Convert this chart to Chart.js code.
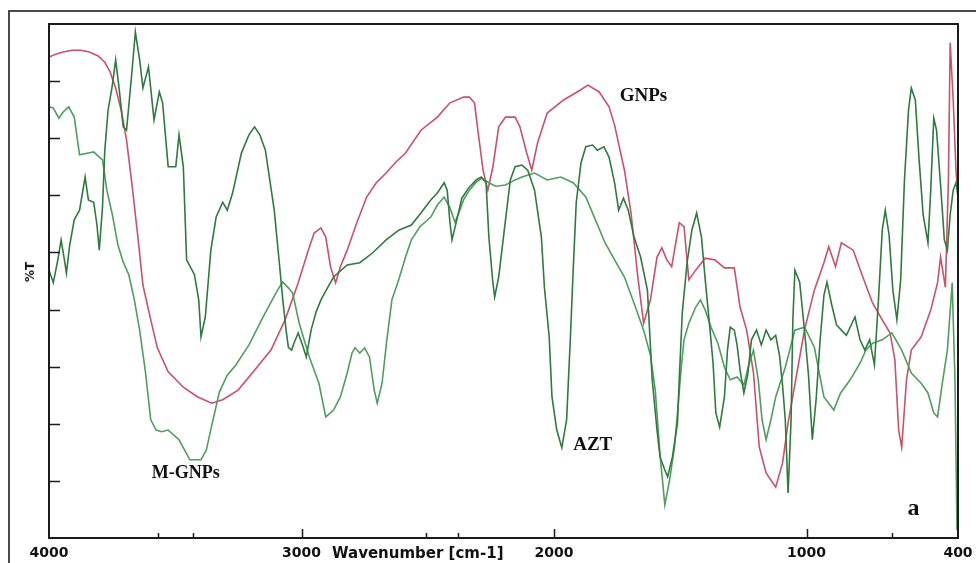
<!DOCTYPE html>
<html>
<head>
<meta charset="utf-8">
<title>FTIR - GNPs, M-GNPs, AZT</title>
<script src="https://cdn.jsdelivr.net/npm/chart.js@4.4.1/dist/chart.umd.min.js"></script>
<style>
    html, body { margin: 0; padding: 0; background: #fff; }
    #wrap { position: relative; width: 976px; height: 563px; overflow: hidden; }
    #frame { position: absolute; left: 8px; top: 10px; width: 1000px; height: 600px;
             border-left: 2px solid #4a4a4a; border-top: 2px solid #4a4a4a; }
    canvas { position: absolute; left: 0; top: 0; }
    .lbl { position: absolute; font-family: "DejaVu Sans", sans-serif; font-weight: bold;
           color: #111; white-space: nowrap; line-height: 1; }
    #xtitle { left: 332px; top: 546px; font-size: 15px; }
    #ytitle { left: 30px; top: 272px; font-size: 12px; transform: translate(-50%, -50%) rotate(-90deg); }
</style>
</head>
<body>
<div id="wrap">
    <div id="frame"></div>
    <canvas id="graficoFTIR" width="976" height="563"></canvas>
    <div class="lbl" id="xtitle">Wavenumber [cm-1]</div>
    <div class="lbl" id="ytitle">%T</div>
</div>
<script>
// ------------------------------------------------ DATOS ------------------------------------------------

    // GNPs (rojo)
    const gnpsWn = [
        4000, 3974, 3944, 3909, 3874, 3840, 3805, 3779, 3758, 3736,
        3714, 3693, 3671, 3649, 3628, 3597, 3571, 3528, 3468, 3411,
        3355, 3312, 3251, 3195, 3121, 3065, 3013, 2973, 2950, 2923,
        2904, 2885, 2865, 2846, 2819, 2781, 2742, 2704, 2665, 2627,
        2588, 2527, 2462, 2412, 2358, 2335, 2315, 2300, 2281, 2262,
        2242, 2219, 2192, 2154, 2135, 2108, 2088, 2065, 2027, 1962,
        1897, 1866, 1821, 1782, 1760, 1721, 1695, 1668, 1645, 1618,
        1592, 1573, 1553, 1534, 1504, 1485, 1466, 1439, 1401, 1363,
        1325, 1286, 1263, 1237, 1210, 1187, 1160, 1122, 1095, 1073,
        1038, 1008, 969, 931, 912, 885, 862, 815, 777, 738,
        700, 669, 650, 635, 623, 604, 585, 546, 508, 481,
        469, 450, 438, 431, 419, 408, 400
    ];
    const gnpsT = [
        84.2, 84.7, 85.1, 85.4, 85.4, 85.1, 84.4, 83.3, 81.6, 78.8,
        74.9, 69.7, 61.8, 53.1, 44.3, 38.2, 33.3, 29.1, 26.4, 24.7,
        23.6, 24.2, 25.9, 28.9, 32.9, 38.2, 44.7, 50.4, 53.4, 54.3,
        52.7, 47.5, 44.7, 47.5, 50.4, 55.2, 59.7, 62.2, 63.9, 65.8,
        67.4, 71.4, 73.7, 76.2, 77.2, 77.2, 76.2, 70.9, 64.4, 60.9,
        65.0, 72.0, 73.7, 73.7, 72.0, 67.4, 64.4, 69.2, 74.4, 76.7,
        78.4, 79.3, 78.1, 75.5, 72.3, 64.4, 56.9, 45.7, 37.6, 41.7,
        49.2, 50.8, 48.7, 47.5, 55.2, 54.5, 45.2, 46.9, 49.0, 48.7,
        47.3, 47.3, 40.4, 36.4, 28.9, 15.9, 11.4, 8.9, 13.1, 20.1,
        28.9, 36.4, 43.4, 48.2, 51.0, 47.5, 51.7, 50.4, 45.7, 41.1,
        38.2, 35.9, 31.2, 18.9, 15.9, 27.7, 32.9, 35.2, 39.9, 44.7,
        49.2, 43.9, 62.7, 86.7, 76.7, 64.4, 59.2
    ];

    // M-GNPs (verde claro)
    const mgnpsWn = [
        4000, 3983, 3961, 3944, 3922, 3900, 3879, 3844, 3823, 3801,
        3788, 3771, 3749, 3727, 3706, 3684, 3662, 3641, 3619, 3597,
        3576, 3554, 3528, 3485, 3442, 3398, 3377, 3355, 3325, 3294,
        3260, 3208, 3152, 3095, 3074, 3052, 3035, 3009, 2969, 2931,
        2904, 2873, 2846, 2819, 2800, 2788, 2769, 2750, 2731, 2712,
        2700, 2681, 2662, 2642, 2615, 2588, 2565, 2531, 2488, 2462,
        2435, 2412, 2392, 2373, 2358, 2335, 2308, 2285, 2258, 2231,
        2192, 2154, 2127, 2077, 2027, 1973, 1924, 1874, 1836, 1798,
        1760, 1721, 1683, 1645, 1618, 1599, 1580, 1561, 1542, 1523,
        1511, 1496, 1485, 1466, 1439, 1420, 1401, 1378, 1351, 1325,
        1302, 1275, 1248, 1229, 1210, 1191, 1176, 1160, 1141, 1122,
        1084, 1046, 1008, 969, 931, 892, 865, 827, 788, 765,
        738, 700, 662, 623, 585, 546, 519, 496, 481, 462,
        442, 423, 412, 404
    ];
    const mgnpsT = [
        75.5, 75.3, 73.5, 74.6, 75.5, 73.7, 67.1, 67.4, 67.6, 66.7,
        66.2, 60.9, 56.6, 51.3, 48.3, 46.1, 41.7, 36.4, 29.4, 20.7,
        18.9, 18.6, 18.9, 17.2, 13.7, 13.7, 15.4, 19.8, 25.6, 28.5,
        30.3, 33.8, 38.7, 43.4, 44.8, 43.8, 42.9, 37.6, 31.7, 27.1,
        21.2, 22.4, 24.7, 28.9, 32.4, 33.3, 32.4, 33.3, 31.7, 25.9,
        23.6, 27.1, 34.7, 41.7, 45.2, 49.2, 52.2, 54.5, 56.2, 58.3,
        59.7, 57.8, 55.3, 57.4, 59.2, 60.9, 62.3, 63.0, 62.2, 61.6,
        61.8, 62.7, 63.2, 63.9, 62.7, 63.2, 62.2, 59.7, 55.7, 51.7,
        48.7, 45.7, 41.1, 36.4, 32.0, 25.9, 14.5, 5.8, 10.2, 15.9,
        21.9, 29.9, 34.7, 37.6, 40.4, 41.7, 39.9, 36.9, 34.1, 29.9,
        27.7, 28.2, 26.8, 30.3, 32.9, 27.7, 20.7, 17.2, 20.7, 24.7,
        29.9, 36.4, 36.9, 33.4, 24.7, 22.4, 25.4, 27.7, 30.6, 32.9,
        34.1, 34.7, 35.9, 32.9, 28.9, 27.1, 25.4, 21.9, 21.2, 27.1,
        32.9, 44.7, 27.7, 1.4
    ];

    // AZT (verde oscuro)
    const aztWn = [
        4000, 3983, 3965, 3952, 3939, 3931, 3918, 3900, 3879, 3857,
        3844, 3823, 3810, 3801, 3788, 3779, 3766, 3749, 3736, 3723,
        3706, 3693, 3671, 3658, 3641, 3628, 3606, 3584, 3563, 3550,
        3528, 3498, 3485, 3468, 3455, 3424, 3407, 3398, 3381, 3359,
        3338, 3312, 3294, 3273, 3238, 3208, 3186, 3165, 3143, 3108,
        3087, 3074, 3061, 3052, 3039, 3030, 3013, 2996, 2981, 2962,
        2942, 2923, 2896, 2873, 2819, 2769, 2719, 2665, 2615, 2565,
        2527, 2488, 2462, 2435, 2423, 2412, 2404, 2385, 2365, 2338,
        2308, 2288, 2269, 2258, 2242, 2235, 2219, 2192, 2173, 2154,
        2127, 2104, 2077, 2050, 2038, 2019, 2008, 1989, 1969, 1950,
        1935, 1924, 1912, 1893, 1874, 1847, 1828, 1802, 1782, 1760,
        1744, 1725, 1706, 1683, 1657, 1630, 1611, 1592, 1580, 1561,
        1550, 1531, 1511, 1504, 1492, 1473, 1454, 1435, 1416, 1401,
        1382, 1370, 1359, 1344, 1325, 1313, 1302, 1286, 1275, 1263,
        1248, 1233, 1218, 1198, 1179, 1160, 1141, 1122, 1107, 1095,
        1084, 1073, 1061, 1054, 1046, 1027, 1008, 992, 977, 962,
        946, 931, 919, 900, 881, 862, 842, 823, 808, 788,
        769, 750, 731, 715, 700, 688, 673, 658, 642, 627,
        612, 596, 585, 569, 554, 538, 519, 508, 496, 485,
        469, 454, 442, 431, 419, 408, 400
    ];
    const aztT = [
        46.9, 44.7, 48.7, 52.2, 48.7, 46.4, 51.3, 55.7, 57.4, 63.2,
        59.2, 58.8, 54.8, 50.4, 58.0, 67.9, 74.9, 79.3, 83.7, 79.0,
        72.0, 71.4, 81.9, 88.6, 83.7, 78.8, 82.5, 73.2, 78.1, 76.2,
        65.0, 65.0, 70.6, 65.0, 48.7, 46.1, 41.7, 35.2, 38.7, 50.4,
        56.2, 58.8, 57.4, 60.4, 67.4, 70.6, 72.0, 70.6, 67.9, 57.4,
        47.8, 41.7, 36.4, 33.4, 32.9, 34.1, 35.9, 33.8, 31.7, 36.4,
        39.6, 41.7, 43.9, 45.7, 47.8, 48.2, 49.9, 52.2, 53.9, 54.8,
        56.9, 59.2, 60.4, 62.2, 60.9, 55.2, 52.2, 55.7, 59.5, 61.3,
        62.7, 63.2, 62.2, 52.7, 44.7, 42.2, 45.7, 55.7, 62.7, 65.0,
        65.3, 64.4, 60.9, 52.7, 43.9, 35.2, 24.7, 18.9, 15.8, 20.7,
        35.2, 46.9, 58.7, 65.7, 68.5, 68.8, 67.9, 68.5, 66.7, 62.2,
        57.4, 59.5, 57.4, 52.7, 49.2, 43.4, 27.7, 18.9, 14.2, 11.9,
        10.7, 14.2, 20.1, 27.7, 39.4, 48.2, 53.9, 56.9, 52.7, 45.2,
        36.4, 30.6, 21.9, 19.4, 24.7, 32.9, 36.9, 36.4, 33.8, 29.4,
        25.4, 28.5, 34.7, 36.4, 33.8, 36.4, 34.7, 35.5, 32.0, 26.8,
        20.7, 7.9, 20.7, 38.2, 46.9, 44.8, 36.4, 28.5, 17.2, 24.2,
        34.7, 42.5, 44.8, 40.8, 37.3, 36.4, 35.5, 37.3, 38.7, 34.7,
        32.9, 34.7, 30.3, 41.7, 53.9, 57.4, 53.1, 43.4, 38.2, 45.2,
        62.7, 74.9, 78.8, 76.7, 66.2, 56.6, 51.7, 60.9, 73.5, 71.4,
        61.8, 52.2, 50.4, 56.6, 60.9, 62.2, 60.1
    ];

    // eje X: marcas con numero y marcas pequenas
    const xTicks = [4000, 3000, 2000, 1000, 400];
    const xMinorTicks = [3570, 3430, 2505, 2380, 660];

    // etiquetas dentro del grafico (numero de onda, %T)
    const notas = [
        { text: 'GNPs',   wn: 1740, t: 77.4, size: 19 },
        { text: 'AZT',    wn: 1924, t: 16.3, size: 19 },
        { text: 'M-GNPs', wn: 3593, t: 11.4, size: 18 },
        { text: 'a',      wn: 600,  t: 5.1,  size: 24 }
    ];

    function toPoints(wn, t) {
        return wn.map((w, i) => ({ x: w, y: t[i] }));
    }

// ------------------------------------------------ MARCO Y ETIQUETAS ------------------------------------------------

    const marcoPlugin = {
        id: 'marco',
        afterDraw(chart) {
            const { ctx, chartArea: a } = chart;
            const x = chart.scales.x, y = chart.scales.y;
            ctx.save();
            ctx.strokeStyle = '#1b1b1b';
            ctx.lineWidth = 2;
            ctx.strokeRect(a.left, a.top, a.right - a.left, a.bottom - a.top);

            ctx.lineWidth = 1.5;
            ctx.beginPath();
            y.ticks.forEach(tk => {
                if (tk.value <= y.min || tk.value >= y.max) return;
                const py = Math.round(y.getPixelForValue(tk.value)) + 0.5;
                ctx.moveTo(a.left, py);
                ctx.lineTo(a.left + 11, py);
            });
            xTicks.slice(1, -1).forEach(v => {
                const px = Math.round(x.getPixelForValue(v)) + 0.5;
                ctx.moveTo(px, a.bottom);
                ctx.lineTo(px, a.bottom - 9);
            });
            xMinorTicks.forEach(v => {
                const px = Math.round(x.getPixelForValue(v)) + 0.5;
                ctx.moveTo(px, a.bottom);
                ctx.lineTo(px, a.bottom - 5);
            });
            ctx.stroke();

            ctx.fillStyle = '#111';
            ctx.textBaseline = 'middle';
            ctx.textAlign = 'left';
            notas.forEach(n => {
                ctx.font = 'bold ' + n.size + 'px "Liberation Serif", serif';
                ctx.fillText(n.text, x.getPixelForValue(n.wn), y.getPixelForValue(n.t));
            });
            ctx.restore();
        }
    };

// ------------------------------------------------ GRAFICO ------------------------------------------------

    const configFTIR = {
        type: 'line',
        data: {
            datasets: [
                { label: 'AZT', data: toPoints(aztWn, aztT), borderColor: '#2f7a3e' },
                { label: 'M-GNPs', data: toPoints(mgnpsWn, mgnpsT), borderColor: '#4f9e5e' },
                { label: 'GNPs', data: toPoints(gnpsWn, gnpsT), borderColor: '#cc5068' }
            ]
        },
        options: {
            responsive: false,
            animation: false,
            layout: { padding: { left: 49, top: 24, right: 18, bottom: 0 } },
            plugins: { legend: { display: false }, tooltip: { enabled: false } },
            elements: {
                point: { radius: 0 },
                line: { borderWidth: 1.6, tension: 0 }
            },
            scales: {
                x: {
                    type: 'linear',
                    reverse: true,
                    min: 400,
                    max: 4000,
                    afterBuildTicks: s => { s.ticks = xTicks.map(v => ({ value: v })); },
                    afterFit: s => { s.height = 25; s.paddingLeft = 0; s.paddingRight = 0; },
                    grid: { display: false, drawTicks: false },
                    border: { display: false },
                    ticks: {
                        autoSkip: false,
                        maxRotation: 0,
                        padding: 7,
                        color: '#111',
                        font: { family: 'DejaVu Sans', size: 14, weight: 'bold' },
                        callback: v => String(v)
                    }
                },
                y: {
                    min: 0,
                    max: 90,
                    afterFit: s => { s.width = 0; },
                    ticks: { display: false, stepSize: 10 },
                    grid: { display: false, drawTicks: false },
                    border: { display: false }
                }
            }
        },
        plugins: [marcoPlugin]
    };

    var ftirChart = new Chart(
        document.getElementById('graficoFTIR'),
        configFTIR
    );
</script>
</body>
</html>
